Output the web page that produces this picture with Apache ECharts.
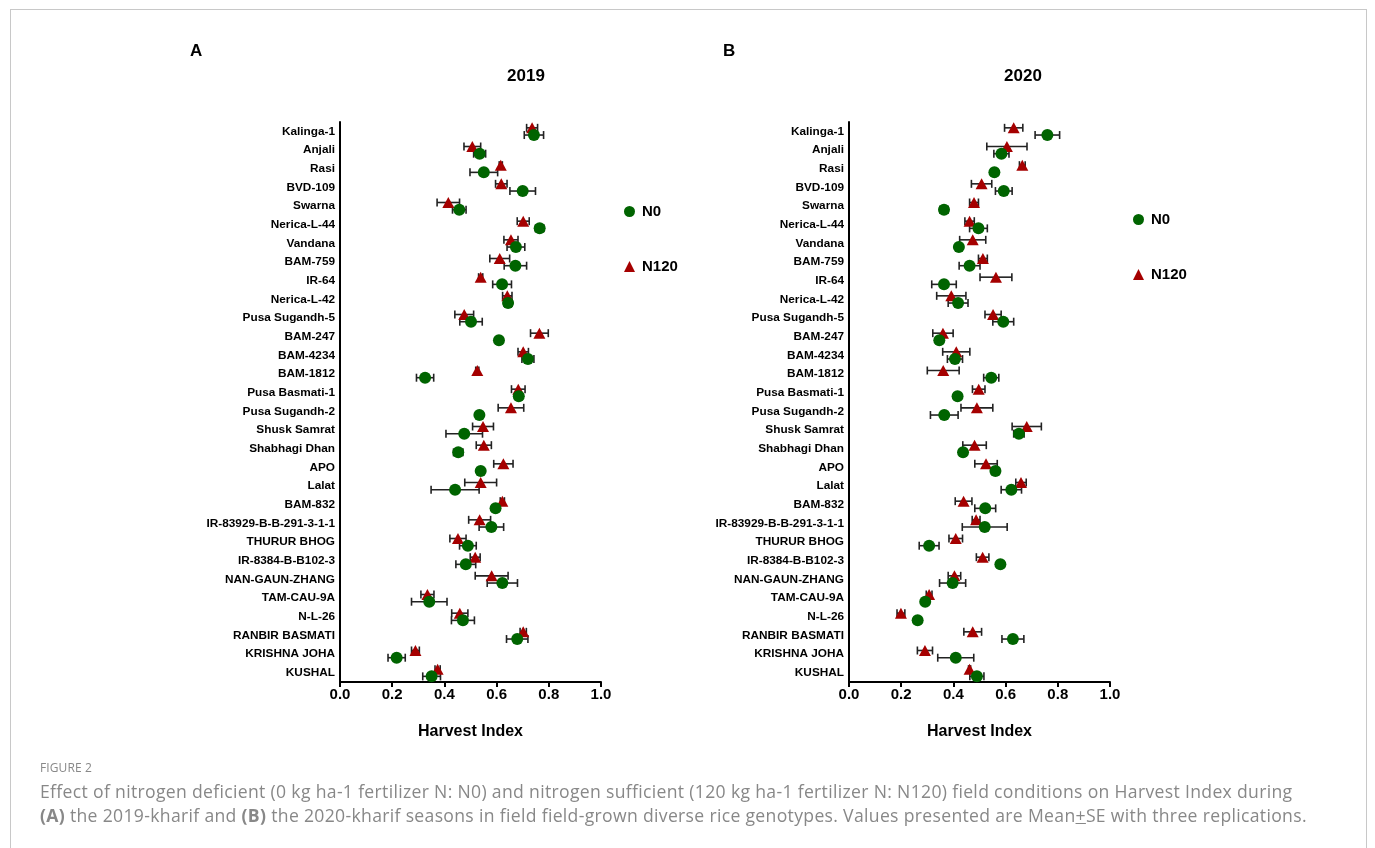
<!DOCTYPE html>
<html><head><meta charset="utf-8">
<script src="https://cdn.jsdelivr.net/npm/echarts@6/dist/echarts.min.js"></script>
<style>
html,body{margin:0;padding:0;background:#fff;}
#wrap{position:absolute;left:10px;top:9px;width:1357px;height:850px;border:1px solid #c8c8c8;border-bottom:none;box-sizing:border-box;}
#chart{position:absolute;left:0;top:0;width:1375px;height:848px;}
#cap{position:absolute;left:40px;top:759px;width:1320px;font-family:"Open Sans",sans-serif;color:#888;white-space:nowrap;}
#cap .fig{font-size:12px;letter-spacing:0.1px;margin-bottom:3px;}
#cap .txt{font-size:17.6px;line-height:24px;letter-spacing:0.32px;}
</style></head>
<body>
<div id="wrap"></div>
<div id="chart"></div>
<div id="cap"><div class="fig">FIGURE 2</div><div class="txt">Effect of nitrogen deficient (0 kg ha-1 fertilizer N: N0) and nitrogen sufficient (120 kg ha-1 fertilizer N: N120) field conditions on Harvest Index during<br><b>(A)</b> the 2019-kharif and <b>(B)</b> the 2020-kharif seasons in field field-grown diverse rice genotypes. Values presented are Mean<u>+</u>SE with three replications.</div></div>
<script>
const categories = ["Kalinga-1","Anjali","Rasi","BVD-109","Swarna","Nerica-L-44","Vandana","BAM-759","IR-64","Nerica-L-42","Pusa Sugandh-5","BAM-247","BAM-4234","BAM-1812","Pusa Basmati-1","Pusa Sugandh-2","Shusk Samrat","Shabhagi Dhan","APO","Lalat","BAM-832","IR-83929-B-B-291-3-1-1","THURUR BHOG","IR-8384-B-B102-3","NAN-GAUN-ZHANG","TAM-CAU-9A","N-L-26","RANBIR BASMATI","KRISHNA JOHA","KUSHAL"];
const xTicks = [0,0.2,0.4,0.6,0.8,1.0];

const n0_2019 = [0.743,0.535,0.551,0.700,0.457,0.765,0.674,0.672,0.621,0.644,0.502,0.609,0.720,0.326,0.685,0.534,0.476,0.453,0.539,0.441,0.596,0.580,0.490,0.482,0.622,0.342,0.471,0.679,0.217,0.351];
const n0_2019_se = [0.037,0.023,0.053,0.049,0.026,0.016,0.034,0.043,0.036,0.015,0.043,0.003,0.023,0.033,0.012,0.012,0.070,0.018,0.012,0.092,0.004,0.047,0.032,0.038,0.058,0.068,0.044,0.041,0.033,0.034];
const n120_2019 = [0.736,0.507,0.616,0.618,0.415,0.702,0.655,0.612,0.539,0.641,0.476,0.764,0.702,0.526,0.683,0.655,0.548,0.551,0.626,0.539,0.622,0.535,0.452,0.518,0.581,0.335,0.459,0.702,0.289,0.374];
const n120_2019_se = [0.021,0.032,0.006,0.022,0.043,0.023,0.027,0.038,0.008,0.018,0.036,0.034,0.020,0.006,0.026,0.049,0.040,0.029,0.037,0.061,0.008,0.042,0.031,0.019,0.063,0.025,0.031,0.012,0.015,0.010];

const n0_2020 = [0.760,0.584,0.557,0.593,0.364,0.496,0.421,0.462,0.364,0.418,0.591,0.346,0.406,0.545,0.416,0.365,0.651,0.437,0.561,0.622,0.522,0.520,0.307,0.580,0.397,0.292,0.263,0.628,0.409,0.490];
const n0_2020_se = [0.047,0.029,0.003,0.032,0.016,0.034,0.003,0.040,0.047,0.038,0.040,0.003,0.029,0.029,0.003,0.053,0.020,0.003,0.015,0.039,0.040,0.086,0.038,0.003,0.050,0.008,0.003,0.042,0.069,0.027];
const n120_2020 = [0.631,0.605,0.664,0.508,0.479,0.462,0.474,0.513,0.563,0.392,0.552,0.360,0.411,0.361,0.497,0.490,0.681,0.481,0.525,0.659,0.439,0.487,0.409,0.512,0.404,0.307,0.199,0.474,0.291,0.462];
const n120_2020_se = [0.035,0.077,0.011,0.039,0.017,0.018,0.050,0.017,0.061,0.056,0.031,0.039,0.052,0.061,0.024,0.061,0.056,0.045,0.043,0.020,0.032,0.015,0.026,0.024,0.024,0.011,0.015,0.034,0.029,0.004];

const GREEN = '#006400', RED = '#a50000';
const FONT = '"Liberation Sans", Arial, sans-serif';
const OFF_TRI = -3.5, OFF_CIR = 3.7;

function errSeries(idx, mean, se, off){
  return {
    type:'custom', name:'err', xAxisIndex:idx, yAxisIndex:idx, z:2, silent:true,
    data: mean.map((m,i)=>[m,i,se[i]]),
    encode:{x:0,y:1},
    renderItem:function(params, api){
      const m = api.value(0), c = api.value(1), s = api.value(2);
      const p = api.coord([m,c]);
      const y = p[1]+off;
      const lo = api.coord([m-s,c])[0], hi = api.coord([m+s,c])[0];
      const st = {stroke:'#222', lineWidth:1.6};
      return {type:'group', children:[
        {type:'line', shape:{x1:lo,y1:y,x2:hi,y2:y}, style:st},
        {type:'line', shape:{x1:lo,y1:y-4,x2:lo,y2:y+4}, style:st},
        {type:'line', shape:{x1:hi,y1:y-4,x2:hi,y2:y+4}, style:st}
      ]};
    }
  };
}
function ptSeries(idx, name, mean, sym, color, off){
  return {
    type:'scatter', name:name, xAxisIndex:idx, yAxisIndex:idx, z:3,
    symbol:sym, symbolSize: sym==='circle'?12:[12,11], symbolOffset:[0,off],
    itemStyle:{color:color, opacity:1},
    data: mean.map((m,i)=>[m,i])
  };
}
const grids = [
  {left:340, top:122, width:261, height:560},
  {left:849, top:122, width:261, height:560}
];
function xAx(i){
  return {type:'value', gridIndex:i, min:0, max:1, interval:0.2,
    axisLine:{show:true, lineStyle:{color:'#000', width:2}},
    axisTick:{show:true, length:5, lineStyle:{color:'#000', width:2}},
    splitLine:{show:false},
    axisLabel:{color:'#000', fontFamily:FONT, fontWeight:'bold', fontSize:15, margin:5,
      formatter:v=>{const t=xTicks.find(k=>Math.abs(k-v)<1e-6); return t===undefined?'':t.toFixed(1);}},
    name:'Harvest Index', nameLocation:'middle', nameGap:42,
    nameTextStyle:{color:'#000', fontFamily:FONT, fontWeight:'bold', fontSize:16}
  };
}
function yAx(i){
  return {type:'category', gridIndex:i, data:categories, inverse:true,
    axisLine:{show:true, lineStyle:{color:'#000', width:2}},
    axisTick:{show:false},
    axisLabel:{color:'#000', fontFamily:FONT, fontWeight:'bold', fontSize:11.8, margin:5, interval:0}
  };
}
const legendBase = {orient:'vertical', itemWidth:11, itemHeight:11, itemGap:40,
  textStyle:{color:'#000', fontFamily:FONT, fontWeight:'bold', fontSize:15, padding:[0,0,0,2]}, selectedMode:false};
const legendData = [{name:'N0',icon:'circle',itemStyle:{color:GREEN}},{name:'N120',icon:'triangle',itemStyle:{color:RED}}];

const option = {
  animation:false,
  grid:grids,
  xAxis:[xAx(0), xAx(1)],
  yAxis:[yAx(0), yAx(1)],
  legend:[
    Object.assign({left:619, top:199, data:legendData}, legendBase),
    Object.assign({left:1128, top:207, data:legendData}, legendBase)
  ],
  graphic:[
    {type:'text', left:190, top:43, style:{text:'A', font:'bold 17px '+FONT, fill:'#000'}},
    {type:'text', left:723, top:43, style:{text:'B', font:'bold 17px '+FONT, fill:'#000'}},
    {type:'text', x:526, y:76, style:{text:'2019', font:'bold 17px '+FONT, fill:'#000', textAlign:'center', textVerticalAlign:'middle'}},
    {type:'text', x:1023, y:76, style:{text:'2020', font:'bold 17px '+FONT, fill:'#000', textAlign:'center', textVerticalAlign:'middle'}}
  ],
  series:[
    errSeries(0, n120_2019, n120_2019_se, OFF_TRI),
    ptSeries(0, 'N120', n120_2019, 'triangle', RED, OFF_TRI),
    errSeries(0, n0_2019, n0_2019_se, OFF_CIR),
    ptSeries(0, 'N0', n0_2019, 'circle', GREEN, OFF_CIR),
    errSeries(1, n120_2020, n120_2020_se, OFF_TRI),
    ptSeries(1, 'N120', n120_2020, 'triangle', RED, OFF_TRI),
    errSeries(1, n0_2020, n0_2020_se, OFF_CIR),
    ptSeries(1, 'N0', n0_2020, 'circle', GREEN, OFF_CIR)
  ]
};
const chart = echarts.init(document.getElementById('chart'), null, {renderer:'canvas'});
chart.setOption(option);
</script>
</body></html>
